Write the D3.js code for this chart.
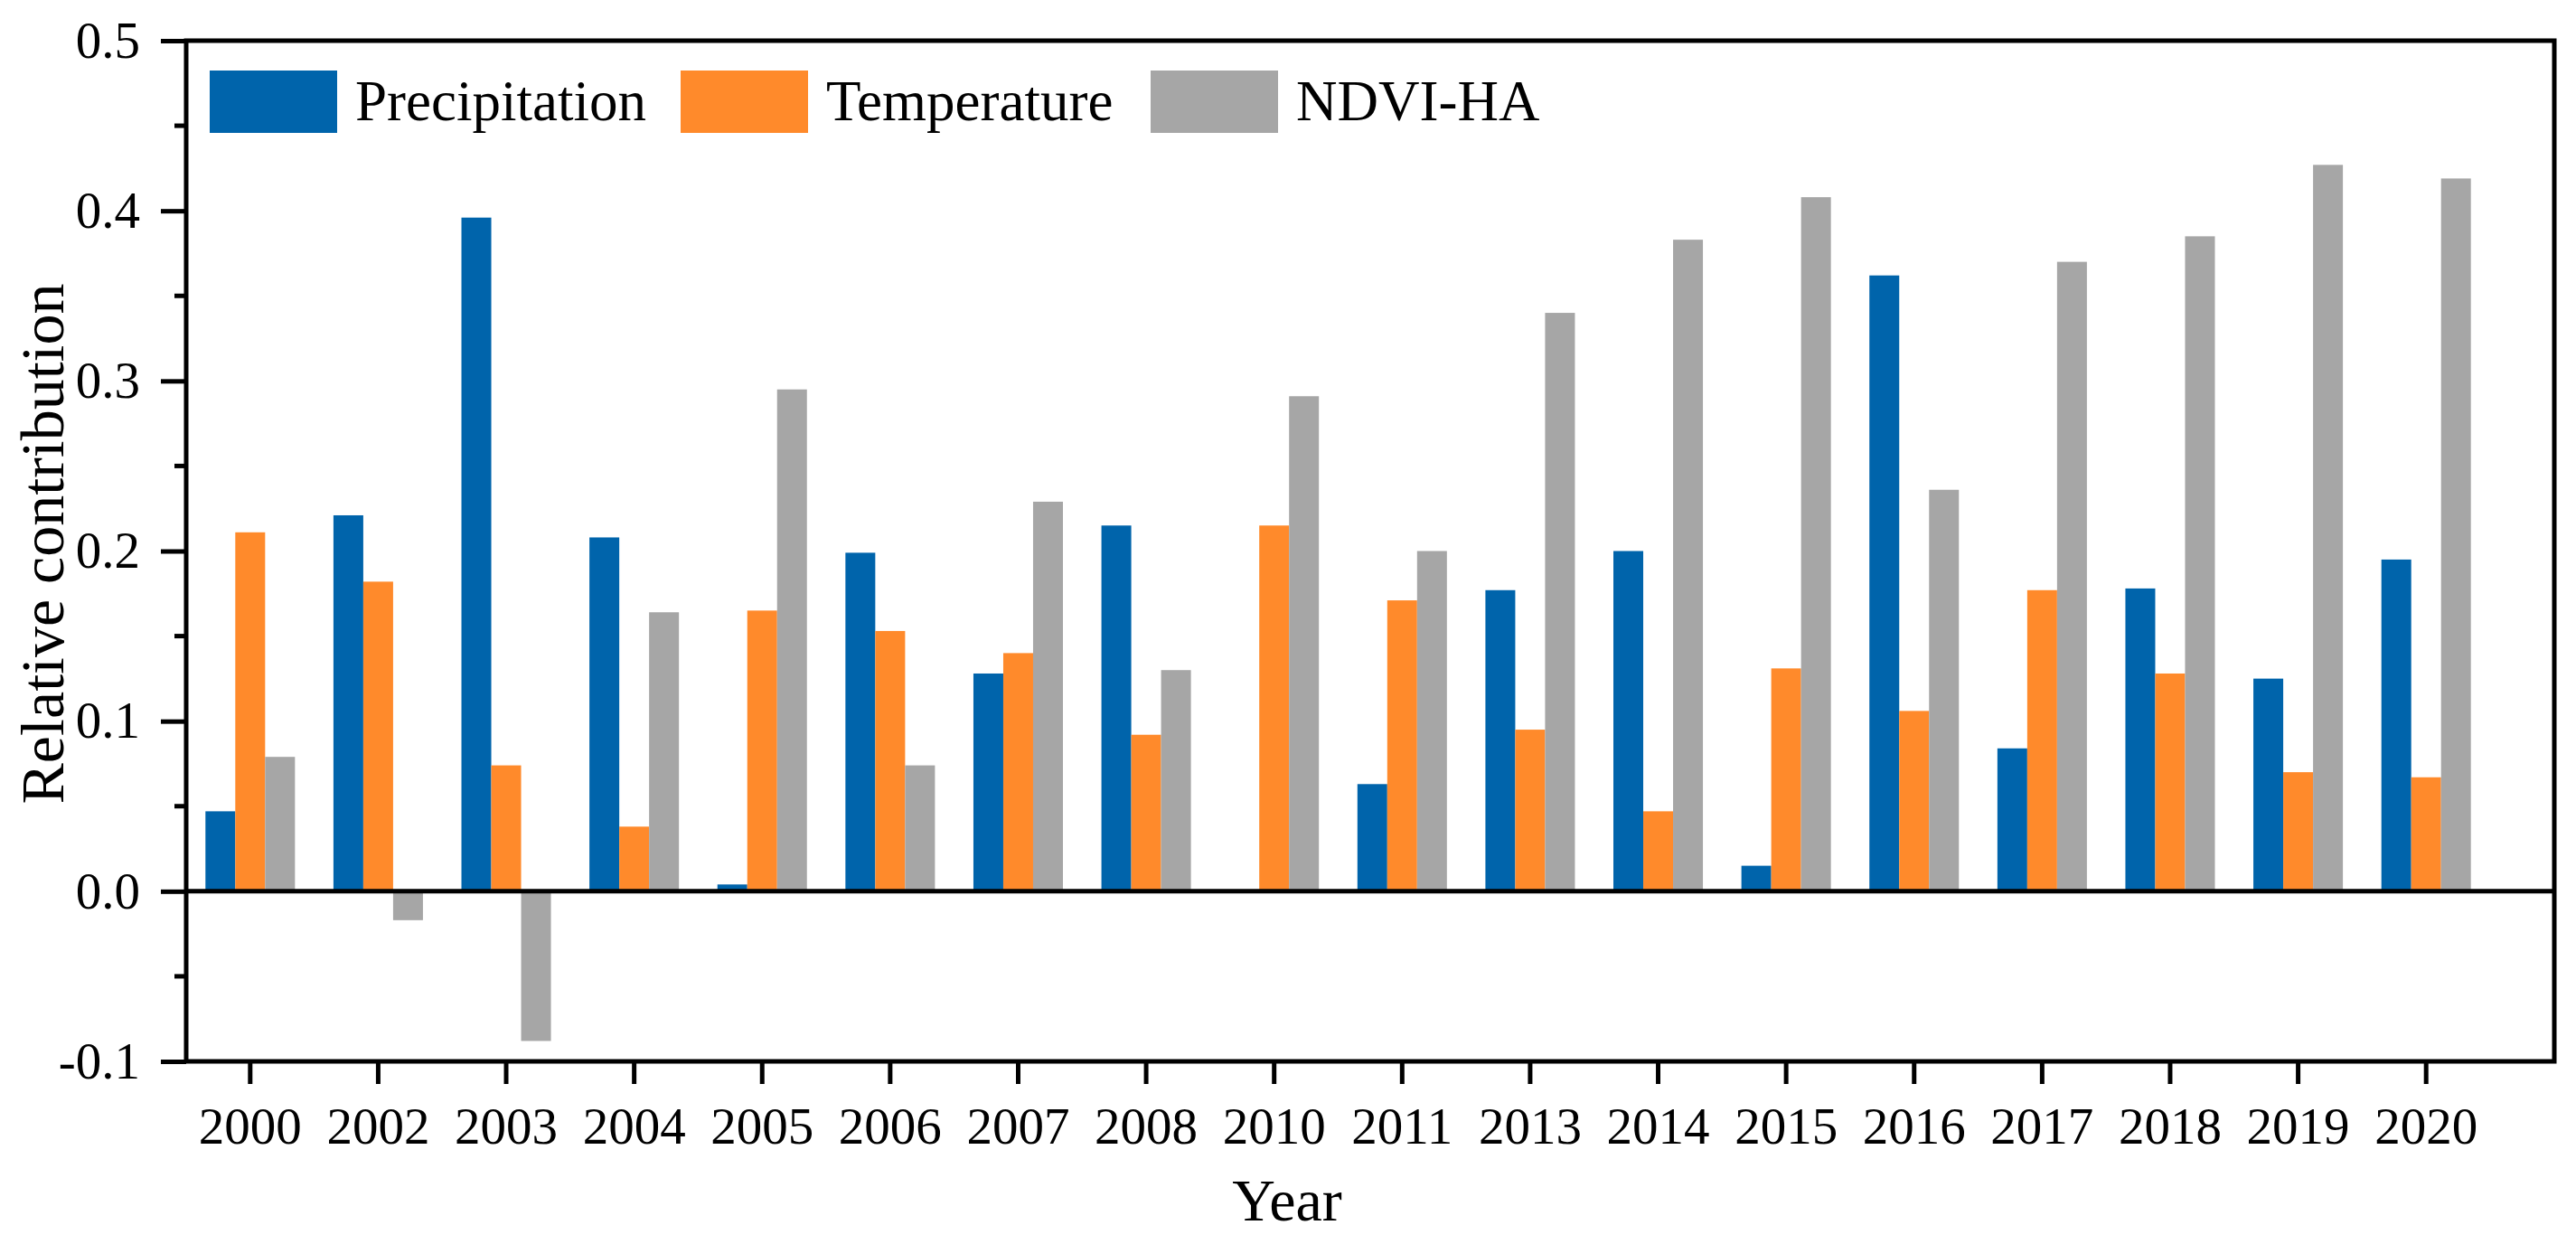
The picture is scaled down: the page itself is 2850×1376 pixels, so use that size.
<!DOCTYPE html>
<html>
<head>
<meta charset="utf-8">
<script src="https://cdn.jsdelivr.net/npm/d3@7"></script>
<style>
  html, body { margin: 0; padding: 0; background: #fff; }
  svg text { font-family: "Liberation Serif", "Times New Roman", serif; fill: #000; }
</style>
</head>
<body>
<svg id="chart" width="2850" height="1376"></svg>
<script>
const years = ["2000","2002","2003","2004","2005","2006","2007","2008","2010","2011","2013","2014","2015","2016","2017","2018","2019","2020"];
const seriesNames = ["Precipitation", "Temperature", "NDVI-HA"];
const precipitation = [0.047, 0.221, 0.396, 0.208, 0.004, 0.199, 0.128, 0.215, 0.000, 0.063, 0.177, 0.200, 0.015, 0.362, 0.084, 0.178, 0.125, 0.195];
const temperature   = [0.211, 0.182, 0.074, 0.038, 0.165, 0.153, 0.140, 0.092, 0.215, 0.171, 0.095, 0.047, 0.131, 0.106, 0.177, 0.128, 0.070, 0.067];
const ndviHA        = [0.079, -0.017, -0.088, 0.164, 0.295, 0.074, 0.229, 0.130, 0.291, 0.200, 0.340, 0.383, 0.408, 0.236, 0.370, 0.385, 0.427, 0.419];
const yTicks = [-0.1, 0.0, 0.1, 0.2, 0.3, 0.4, 0.5];
const colors = ["#0064AB", "#FF8A2B", "#A6A6A6"];

const svg = d3.select("#chart");
const L = 206, R = 2826, T = 45, B = 1174;

const x = d3.scaleBand().domain(years).range([L, 2755]).paddingInner(0).paddingOuter(0);
const xs = d3.scaleBand().domain(seriesNames).range([0, x.bandwidth()]).paddingInner(0).paddingOuter(0.645);
const y = d3.scaleLinear().domain([-0.1, 0.5]).range([B, T]);

const series = [precipitation, temperature, ndviHA];
const rows = [];
years.forEach((yr, i) => seriesNames.forEach((s, j) => rows.push({yr, s, j, v: series[j][i]})));

// bars
svg.append("g").selectAll("rect").data(rows.filter(d => d.v !== 0)).join("rect")
  .attr("x", d => x(d.yr) + xs(d.s))
  .attr("width", xs.bandwidth())
  .attr("y", d => y(Math.max(0, d.v)))
  .attr("height", d => Math.abs(y(d.v) - y(0)))
  .attr("fill", d => colors[d.j]);

// zero line
svg.append("line").attr("x1", L).attr("x2", R).attr("y1", y(0)).attr("y2", y(0))
  .attr("stroke", "#000").attr("stroke-width", 5);

// frame
svg.append("rect").attr("x", L).attr("y", T).attr("width", R - L).attr("height", B - T)
  .attr("fill", "none").attr("stroke", "#000").attr("stroke-width", 5);

// y axis
const yAxis = d3.axisLeft(y).tickValues(yTicks)
  .tickFormat(d => d3.format(".1f")(d).replace("\u2212", "-")).tickSize(28).tickPadding(23);
const gy = svg.append("g").attr("transform", `translate(${L},0)`).call(yAxis);
gy.select(".domain").remove();
gy.selectAll(".tick line").attr("stroke", "#000").attr("stroke-width", 5);
gy.selectAll(".tick text").attr("font-size", 57).attr("font-family", "Liberation Serif").attr("fill", "#000");
// minor ticks
const minor = [-0.05, 0.05, 0.15, 0.25, 0.35, 0.45];
svg.append("g").selectAll("line").data(minor).join("line")
  .attr("x1", L - 13).attr("x2", L).attr("y1", d => y(d)).attr("y2", d => y(d))
  .attr("stroke", "#000").attr("stroke-width", 5);

// x axis
const xAxis = d3.axisBottom(x).tickSize(25);
const gx = svg.append("g").attr("transform", `translate(0,${B})`).call(xAxis);
gx.select(".domain").remove();
gx.selectAll(".tick line").attr("stroke", "#000").attr("stroke-width", 5);
gx.selectAll(".tick text").attr("font-size", 57).attr("font-family", "Liberation Serif").attr("fill", "#000")
  .attr("y", 91).attr("dy", 0);

// axis titles
svg.append("text").attr("x", 1424).attr("y", 1350).attr("text-anchor", "middle")
  .attr("font-size", 66).text("Year");
svg.append("text").attr("transform", `translate(70,${(T + B) / 2 - 8}) rotate(-90)`)
  .attr("text-anchor", "middle").attr("font-size", 68).text("Relative contribution");

// legend
const legendX = [232, 753, 1273];
const lg = svg.append("g").selectAll("g").data(seriesNames).join("g")
  .attr("transform", (d, i) => `translate(${legendX[i]},78)`);
lg.append("rect").attr("width", 141).attr("height", 69).attr("fill", (d, i) => colors[i]);
lg.append("text").attr("x", 161).attr("y", 55).attr("font-size", 63).text(d => d);
</script>
</body>
</html>
